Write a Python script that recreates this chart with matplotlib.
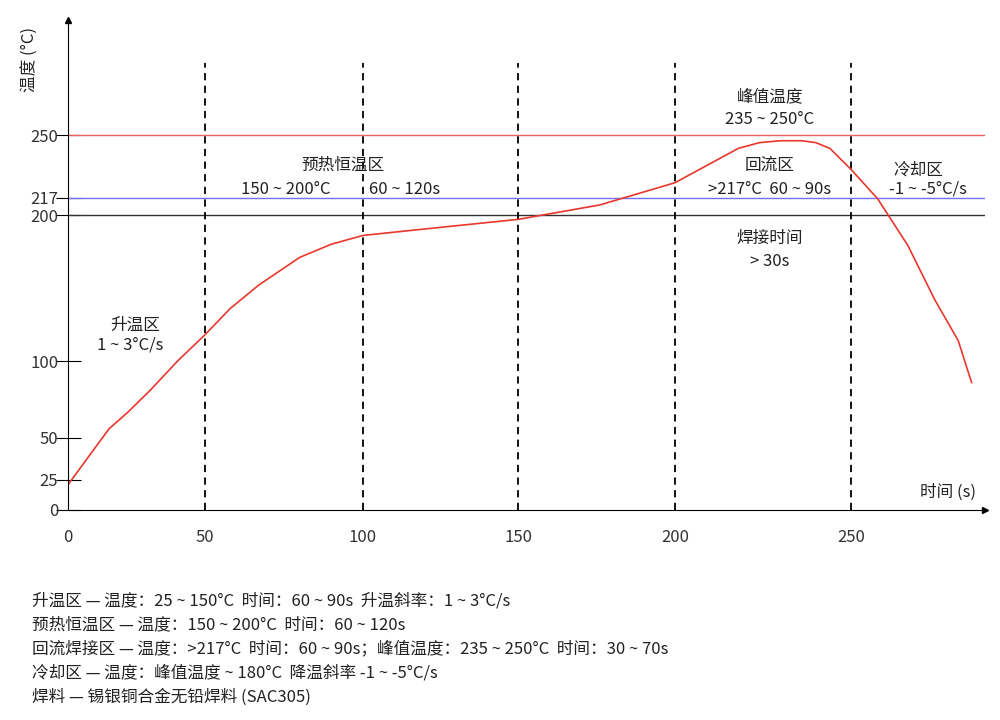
import numpy as np
import matplotlib.pyplot as plt

plt.rcParams["font.family"] = ["Noto Sans CJK SC", "DejaVu Sans"]

# --- data ---
time_s = [0, 8, 15, 22, 30, 40, 50, 58, 67, 80, 90, 100, 118, 150, 176, 200, 207, 213, 218, 224, 230, 236, 240, 244, 250, 258, 267, 275, 282, 286]
temp_c = [21, 40, 56, 67, 81, 100, 118, 136, 152, 171, 180, 186, 190, 197, 210, 225, 232, 238, 243, 246, 247, 247, 246, 243, 232, 216, 179, 142, 114, 86]
x_ticks = [0, 50, 100, 150, 200, 250]
y_ticks = [0, 25, 50, 100, 200, 217, 250]
zone_lines = [50, 100, 150, 200, 250]
footer = [
    "升温区 — 温度：25 ~ 150°C  时间：60 ~ 90s  升温斜率：1 ~ 3°C/s",
    "预热恒温区 — 温度：150 ~ 200°C  时间：60 ~ 120s",
    "回流焊接区 — 温度：>217°C  时间：60 ~ 90s；峰值温度：235 ~ 250°C  时间：30 ~ 70s",
    "冷却区 — 温度：峰值温度 ~ 180°C  降温斜率 -1 ~ -5°C/s",
    "焊料 — 锡银铜合金无铅焊料 (SAC305)",
]

# non-uniform axes as drawn in the original
XK = [0, 50, 100, 150, 200, 250, 290]
XP = [0, 137, 295, 450, 607, 783, 917]
YK = [0, 25, 50, 100, 200, 217, 250, 330]
YP = [0, 30, 72, 149, 295, 312, 375, 490]
fx = lambda v: np.interp(v, XK, XP)
ix = lambda v: np.interp(v, XP, XK)
fy = lambda v: np.interp(v, YK, YP)
iy = lambda v: np.interp(v, YP, YK)

W, H = 1000, 720
fig = plt.figure(figsize=(10, 7.2), dpi=100)
ax = fig.add_axes([68 / W, 1 - 510 / H, 917 / W, 490 / H])
ax.set_xscale("function", functions=(fx, ix))
ax.set_yscale("function", functions=(fy, iy))
ax.set_xlim(0, 290)
ax.set_ylim(0, 330)

for s in ["top", "right"]:
    ax.spines[s].set_visible(False)
ax.plot(1, 0, ">k", transform=ax.transAxes, clip_on=False, ms=4)
ax.plot(0, 1, "^k", transform=ax.transAxes, clip_on=False, ms=4)

ax.axhline(250, color="#f06060", lw=1)
ax.axhline(217, color="#7070f0", lw=1)
ax.axhline(200, color="#333333", lw=1)
for z in zone_lines:
    ax.plot([z, z], [0, 300], "k--", lw=1.3, dashes=(4, 3))

ax.plot(time_s, temp_c, color="#e8372d", lw=1.2)

ax.set_xticks(x_ticks)
ax.set_xticklabels([str(t) for t in x_ticks], fontsize=12, color="#333333")
ax.tick_params(axis="x", length=0, pad=14)
ax.set_yticks(y_ticks)
ax.set_yticklabels([str(t) for t in y_ticks], fontsize=12, color="#333333")
ax.tick_params(axis="y", length=18, direction="inout", pad=-2, width=0.8)
ax.minorticks_off()

def t(px, py, s, **kw):
    fig.text(px / W, 1 - py / H, s, fontsize=12, ha="center", va="center", color="#222222", **kw)

t(30, 60, "温度 (°C)", rotation=90)
t(948, 492, "时间 (s)")
t(135, 325, "升温区")
t(130, 345, "1 ~ 3°C/s")
t(343, 165, "预热恒温区")
t(286, 189, "150 ~ 200°C")
t(405, 189, "60 ~ 120s")
t(770, 97, "峰值温度")
t(770, 119, "235 ~ 250°C")
t(770, 165, "回流区")
t(770, 189, ">217°C  60 ~ 90s")
t(770, 238, "焊接时间")
t(770, 262, "> 30s")
t(918, 170, "冷却区")
t(928, 189, "-1 ~ -5°C/s")

for i, line in enumerate(footer):
    fig.text(32 / W, 1 - (601 + 24 * i) / H, line, fontsize=12, va="center", color="#222222")

fig.savefig("out.png", dpi=100)
